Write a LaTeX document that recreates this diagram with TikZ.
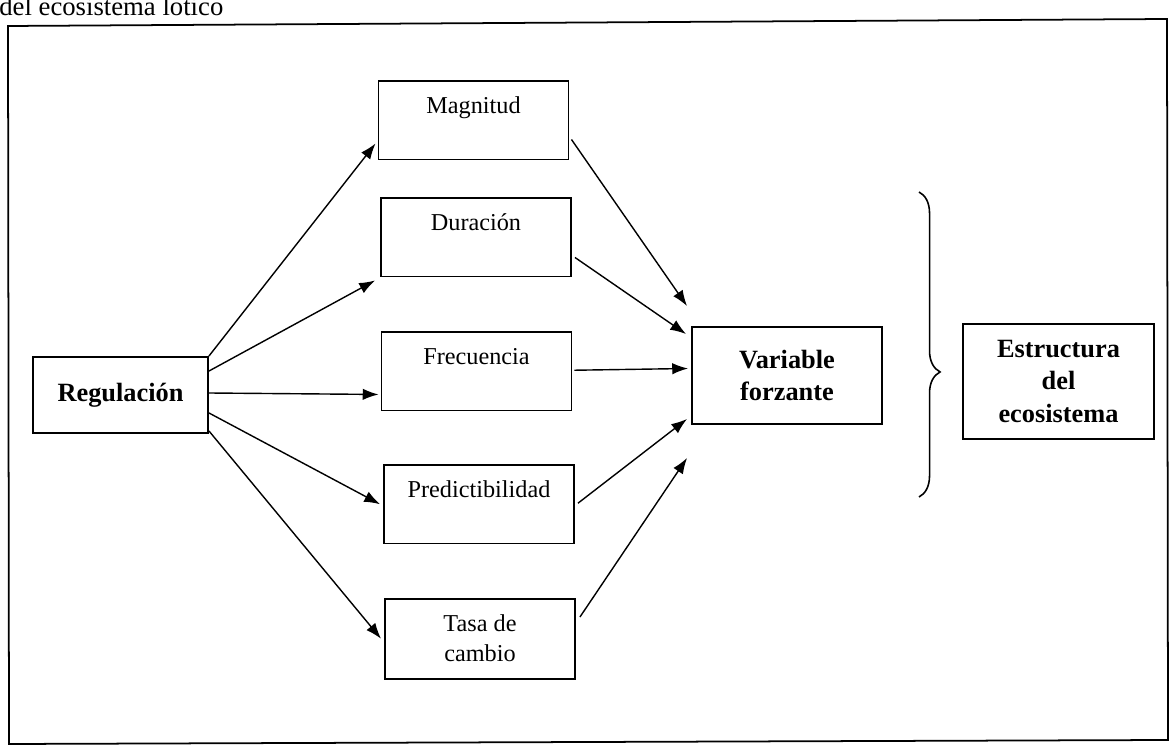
\documentclass[tikz,border=0pt]{standalone}
\usepackage{fontspec}
\setmainfont{Liberation Serif}
\usetikzlibrary{arrows.meta,calc,decorations.pathreplacing}

\begin{document}
\begin{tikzpicture}[x=0.02cm,y=-0.02cm]
	\tikzset{every node/.style={font=\fontsize{13.8}{17}\selectfont}}
	\tikzset{factor/.style={draw,line width=1.1pt,minimum width=3.8cm,inner sep=0pt,align=center,text height=18.7pt,text depth=26pt}}
	\tikzset{mainbox/.style={draw,line width=1.1pt,align=center,inner sep=0pt,font=\fontsize{15}{18.5}\selectfont\bfseries}}
	\tikzset{link/.style={line width=0.8pt,-{Latex[length=9pt,width=6.5pt]}}}
	\useasboundingbox (0,0) rectangle (1171,746);
	\node[anchor=base west,inner sep=0pt,font=\fontsize{15.2}{18}\selectfont] (caption) at (-1,16) {del ecosistema lotico};
	\draw[line width=1pt] (8,26) -- (1167,19) -- (1168,740) -- (9,744) -- cycle;
	\node[mainbox,minimum width=3.5cm,minimum height=1.52cm] (reg) at (120.5,395) {Regulación};
	\node[factor,anchor=north] (mag) at (473.5,80) {Magnitud};
	\node[factor,anchor=north] (dur) at (476,197) {Duración};
	\node[factor,anchor=north] (frec) at (476.5,331) {Frecuencia};
	\node[factor,anchor=north] (pred) at (479,464) {Predictibilidad};
	\node[factor,anchor=north,text height=35.7pt,text depth=9.6pt] (tasa) at (480,598) {Tasa de\\cambio};
	\node[mainbox,minimum width=3.8cm,minimum height=1.94cm] (vf) at (787,375.5) {Variable\\forzante};
	\node[mainbox,minimum width=3.82cm,minimum height=2.3cm] (eco) at (1058.5,381.5) {Estructura\\del\\ecosistema};
	\draw[link] (reg.north east) -- ($(mag.south west)+(-2,-17)$);
	\draw[link] ($(reg.north east)+(0,15)$) -- ($(dur.south west)+(-5,3)$);
	\draw[link] ($(reg.east)+(0,-2)$) -- ($(frec.south west)+(-2,-17)$);
	\draw[link] ($(reg.south east)+(0,-21)$) -- ($(pred.west)+(-3,0)$);
	\draw[link] ($(reg.south east)+(0,-3)$) -- ($(tasa.west)+(-3,0)$);
	\draw[link] ($(mag.south east)+(2,-21)$) -- ($(vf.north west)+(-4,-20)$);
	\draw[link] ($(dur.south east)+(3,-20)$) -- ($(vf.north west)+(-5,8)$);
	\draw[link] ($(frec.east)+(2,-1)$) -- ($(vf.west)+(-3,-7)$);
	\draw[link] ($(pred.east)+(3,-1)$) -- ($(vf.south west)+(-4,-6)$);
	\draw[link] ($(tasa.north east)+(4,19)$) -- ($(vf.south west)+(-4,33)$);
	\coordinate (bracetop) at (919,192);
	\coordinate (bracebot) at (919,497);
	\draw[line width=0.9pt,decorate,decoration={brace,amplitude=12pt,aspect=0.59}] (bracetop) -- (bracebot);
\end{tikzpicture}
\end{document}
